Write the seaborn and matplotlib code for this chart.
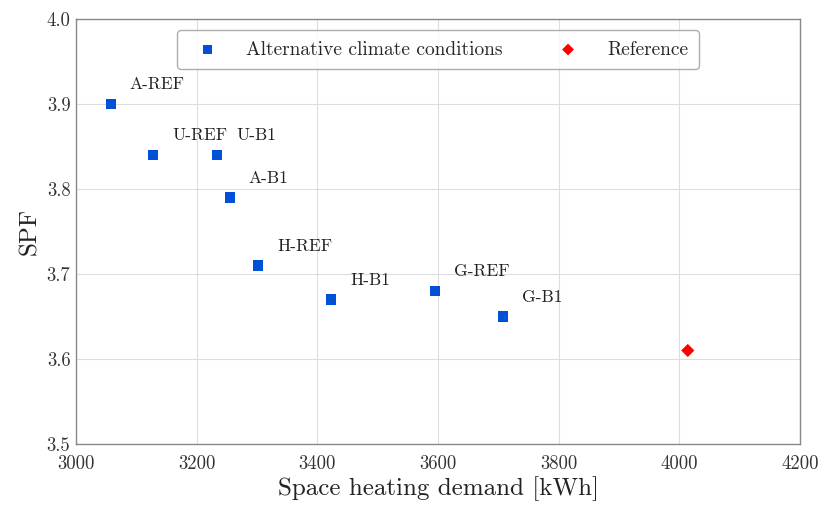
import matplotlib
matplotlib.use("Agg")
import matplotlib.pyplot as plt
import seaborn as sns
import pandas as pd

# Data
alt_labels = ["A-REF", "U-REF", "U-B1", "A-B1", "H-REF", "H-B1", "G-REF", "G-B1"]
alt_demand = [3058, 3128, 3234, 3255, 3302, 3423, 3595, 3708]
alt_spf = [3.90, 3.84, 3.84, 3.79, 3.71, 3.67, 3.68, 3.65]
ref_demand = [4014]
ref_spf = [3.61]
x_ticks = [3000, 3200, 3400, 3600, 3800, 4000, 4200]
y_ticks = [3.5, 3.6, 3.7, 3.8, 3.9, 4.0]

sns.set_theme(style="whitegrid")
plt.rcParams["font.family"] = ["cmr10", "DejaVu Serif"]
plt.rcParams["axes.formatter.use_mathtext"] = True

alt_df = pd.DataFrame({"demand": alt_demand, "spf": alt_spf, "label": alt_labels})
ref_df = pd.DataFrame({"demand": ref_demand, "spf": ref_spf})

fig = plt.figure(figsize=(8.2, 5.07), dpi=100)
ax = fig.add_axes([0.0927, 0.1243, 0.8829, 0.8382])

sns.scatterplot(data=alt_df, x="demand", y="spf", marker="s", color="#0050d8",
                s=55, edgecolor="none", label="Alternative climate conditions", ax=ax, zorder=3)
sns.scatterplot(data=ref_df, x="demand", y="spf", marker="D", color="#ff0000",
                s=45, edgecolor="none", label="Reference", ax=ax, zorder=3)

for xv, yv, lab in zip(alt_demand, alt_spf, alt_labels):
    ax.annotate(lab, (xv, yv), xytext=(13.5, 8.5), textcoords="offset points",
                ha="left", va="bottom", fontsize=12.5, color="#222222")

ax.set_xlim(3000, 4200)
ax.set_ylim(3.5, 4.0)
ax.set_xticks(x_ticks)
ax.set_yticks(y_ticks)
ax.set_xticklabels([str(v) for v in x_ticks])
ax.set_yticklabels([f"{v:.1f}" for v in y_ticks])
ax.tick_params(axis="y", labelsize=13.5, colors="#333333", length=0, pad=4)
ax.tick_params(axis="x", labelsize=13.5, colors="#333333", length=0, pad=8)
ax.set_xlabel("Space heating demand [kWh]", fontsize=18, color="#222222", labelpad=2)
ax.set_ylabel("SPF", fontsize=18, color="#222222", labelpad=4)
ax.grid(True, color="#dddddd", linewidth=0.8)
for sp in ax.spines.values():
    sp.set_color("#888888")
    sp.set_linewidth(1.0)

leg = ax.legend(loc="upper center", ncol=2, fontsize=14, frameon=True,
                bbox_to_anchor=(0.5, 0.997), columnspacing=2.35, handletextpad=1.0,
                borderpad=0.55, markerscale=0.9, fancybox=True)
leg.get_frame().set_edgecolor("#999999")
leg.get_frame().set_linewidth(1.0)

fig.savefig("out.png", dpi=100)
